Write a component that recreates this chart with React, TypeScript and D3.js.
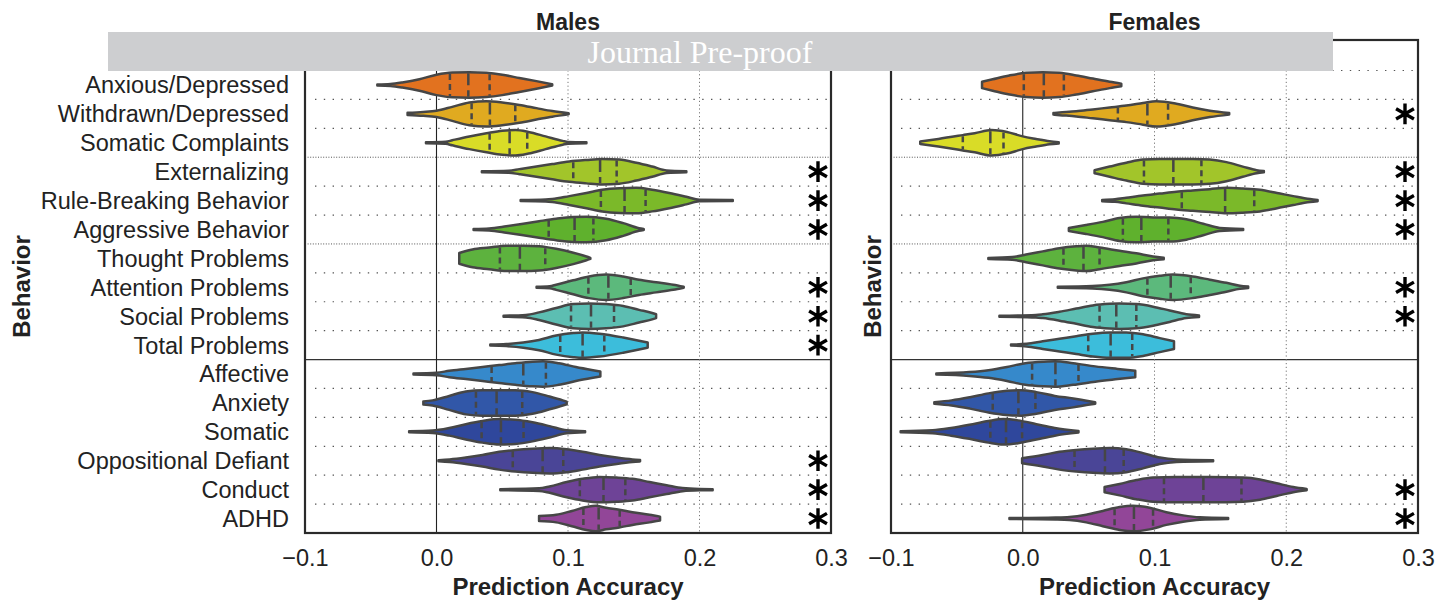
import React, { useEffect, useRef } from "react";
import * as d3 from "d3";

// rows of the chart, top to bottom
const behaviors = [
  "Anxious/Depressed",
  "Withdrawn/Depressed",
  "Somatic Complaints",
  "Externalizing",
  "Rule-Breaking Behavior",
  "Aggressive Behavior",
  "Thought Problems",
  "Attention Problems",
  "Social Problems",
  "Total Problems",
  "Affective",
  "Anxiety",
  "Somatic",
  "Oppositional Defiant",
  "Conduct",
  "ADHD",
];

const violinColors = [
  "#e2721f", "#e0aa20", "#d9dc27", "#a2c52a", "#7bb929", "#5fb12d",
  "#5db23e", "#5cb97c", "#5cbeb2", "#3cbddb", "#3689cb", "#3157a8",
  "#2f479c", "#4a4597", "#6e4397", "#924698",
];

const xTicks = [-0.1, 0, 0.1, 0.2, 0.3];

// [q1, median, q3] per behavior
const malesQuartiles = [
  [0.0102, 0.0242, 0.0404], [0.0267, 0.0406, 0.0599], [0.0404, 0.0556, 0.069],
  [0.104, 0.1244, 0.137], [0.125, 0.143, 0.159], [0.0853, 0.105, 0.1193],
  [0.0482, 0.0634, 0.0827], [0.1155, 0.1307, 0.1477], [0.1023, 0.1175, 0.135],
  [0.0941, 0.1111, 0.1276], [0.0419, 0.066, 0.0832], [0.03, 0.0457, 0.0652],
  [0.0343, 0.049, 0.0662], [0.058, 0.0807, 0.0964], [0.109, 0.127, 0.1436],
  [0.1117, 0.1233, 0.1393],
];

const femalesQuartiles = [
  [0.0008, 0.016, 0.0312], [0.0722, 0.0946, 0.1103], [-0.0455, -0.0246, -0.0146],
  [0.092, 0.1143, 0.1356], [0.1207, 0.1536, 0.1757], [0.076, 0.09, 0.1105],
  [0.0309, 0.0461, 0.0583], [0.0946, 0.1123, 0.1275], [0.0583, 0.071, 0.0862],
  [0.0497, 0.0667, 0.0831], [0.0071, 0.0248, 0.0423], [-0.0228, -0.0033, 0.0096],
  [-0.0246, -0.0127, -0.0005], [0.0393, 0.0624, 0.0766], [0.1072, 0.1371, 0.166],
  [0.0697, 0.0844, 0.0989],
];

// violin outlines: [accuracy, relative density]
const malesProfiles = [
  [[-0.045, 0.04], [-0.035, 0.08], [-0.026, 0.2], [-0.013, 0.45], [0.0, 0.8], [0.012, 0.97], [0.025, 1], [0.038, 0.95], [0.05, 0.8], [0.063, 0.55], [0.076, 0.3], [0.088, 0.05]],
  [[-0.022, 0.08], [-0.01, 0.15], [0.0, 0.25], [0.012, 0.55], [0.025, 0.9], [0.038, 1], [0.05, 0.9], [0.063, 0.7], [0.076, 0.45], [0.088, 0.22], [0.1005, 0.04]],
  [[-0.008, 0.04], [0.007, 0.08], [0.012, 0.2], [0.025, 0.5], [0.038, 0.75], [0.05, 0.95], [0.06, 1], [0.07, 0.85], [0.083, 0.5], [0.096, 0.15], [0.1, 0.07], [0.114, 0.04]],
  [[0.0345, 0.04], [0.055, 0.08], [0.063, 0.2], [0.076, 0.4], [0.088, 0.6], [0.101, 0.8], [0.114, 0.92], [0.126, 1], [0.139, 0.95], [0.152, 0.7], [0.164, 0.4], [0.175, 0.1], [0.19, 0.04]],
  [[0.064, 0.04], [0.083, 0.08], [0.088, 0.12], [0.101, 0.35], [0.114, 0.6], [0.126, 0.85], [0.139, 0.97], [0.152, 1], [0.164, 0.85], [0.177, 0.6], [0.19, 0.3], [0.2, 0.06], [0.2253, 0.04]],
  [[0.0282, 0.04], [0.04, 0.08], [0.053, 0.25], [0.066, 0.45], [0.078, 0.65], [0.091, 0.85], [0.104, 0.98], [0.114, 1], [0.129, 0.85], [0.142, 0.5], [0.154, 0.1], [0.1576, 0.04]],
  [[0.0173, 0.42], [0.0274, 0.7], [0.04, 0.85], [0.053, 1], [0.066, 1], [0.078, 0.95], [0.091, 0.75], [0.104, 0.45], [0.114, 0.15], [0.117, 0.04]],
  [[0.0761, 0.04], [0.086, 0.08], [0.091, 0.2], [0.104, 0.55], [0.116, 0.85], [0.129, 1], [0.142, 0.85], [0.154, 0.6], [0.167, 0.4], [0.18, 0.2], [0.188, 0.04]],
  [[0.051, 0.04], [0.068, 0.1], [0.078, 0.3], [0.091, 0.65], [0.104, 0.95], [0.116, 1], [0.129, 0.95], [0.142, 0.8], [0.154, 0.5], [0.164, 0.25], [0.167, 0.15]],
  [[0.0409, 0.04], [0.053, 0.08], [0.066, 0.2], [0.078, 0.4], [0.091, 0.75], [0.104, 0.95], [0.111, 1], [0.124, 0.9], [0.142, 0.6], [0.154, 0.35], [0.1606, 0.2]],
  [[-0.0175, 0.04], [0.0, 0.1], [0.0097, 0.25], [0.0223, 0.4], [0.035, 0.55], [0.0477, 0.7], [0.06, 0.85], [0.073, 0.97], [0.081, 1], [0.093, 0.85], [0.106, 0.55], [0.119, 0.3], [0.1246, 0.2]],
  [[-0.01, 0.12], [-0.003, 0.2], [0.0097, 0.55], [0.0223, 0.9], [0.035, 1], [0.0477, 1], [0.06, 1], [0.073, 0.85], [0.086, 0.5], [0.096, 0.2], [0.099, 0.1]],
  [[-0.0208, 0.04], [-0.003, 0.1], [0.0097, 0.3], [0.0223, 0.6], [0.035, 0.85], [0.0477, 1], [0.06, 0.95], [0.073, 0.75], [0.086, 0.45], [0.099, 0.12], [0.113, 0.04]],
  [[0.0015, 0.04], [0.01, 0.1], [0.0223, 0.25], [0.035, 0.45], [0.0477, 0.7], [0.06, 0.85], [0.073, 0.95], [0.086, 1], [0.099, 0.9], [0.111, 0.7], [0.124, 0.45], [0.137, 0.25], [0.149, 0.1], [0.1548, 0.05]],
  [[0.0485, 0.04], [0.078, 0.1], [0.086, 0.25], [0.099, 0.6], [0.111, 0.85], [0.124, 1], [0.137, 0.95], [0.149, 0.85], [0.162, 0.6], [0.175, 0.35], [0.187, 0.12], [0.2, 0.05], [0.21, 0.04]],
  [[0.078, 0.2], [0.091, 0.3], [0.103, 0.6], [0.114, 0.9], [0.121, 1], [0.129, 0.85], [0.139, 0.7], [0.149, 0.5], [0.162, 0.3], [0.17, 0.15]],
];

const femalesProfiles = [
  [[-0.0309, 0.25], [-0.0228, 0.45], [-0.0101, 0.75], [0.0025, 0.95], [0.0152, 1], [0.0279, 0.95], [0.0406, 0.75], [0.0532, 0.5], [0.066, 0.25], [0.0748, 0.1]],
  [[0.0233, 0.06], [0.028, 0.1], [0.0406, 0.2], [0.0532, 0.35], [0.066, 0.5], [0.0786, 0.65], [0.0913, 0.85], [0.1014, 1], [0.1166, 0.8], [0.129, 0.5], [0.142, 0.25], [0.1567, 0.06]],
  [[-0.0778, 0.1], [-0.064, 0.3], [-0.0455, 0.6], [-0.0365, 0.75], [-0.0236, 1], [-0.012, 0.85], [0.0, 0.5], [0.0101, 0.3], [0.0203, 0.12], [0.0273, 0.05]],
  [[0.0545, 0.12], [0.066, 0.4], [0.0786, 0.7], [0.0913, 0.95], [0.104, 1], [0.1166, 1], [0.129, 1], [0.142, 0.95], [0.1546, 0.75], [0.167, 0.4], [0.1775, 0.12], [0.183, 0.05]],
  [[0.0603, 0.05], [0.07, 0.1], [0.0786, 0.22], [0.0913, 0.4], [0.104, 0.55], [0.1166, 0.7], [0.129, 0.8], [0.142, 0.9], [0.1546, 1], [0.167, 0.95], [0.18, 0.85], [0.193, 0.6], [0.2053, 0.35], [0.218, 0.12], [0.2238, 0.05]],
  [[0.035, 0.12], [0.048, 0.35], [0.0608, 0.6], [0.0735, 0.9], [0.0862, 1], [0.0989, 0.95], [0.1115, 0.95], [0.1242, 0.8], [0.137, 0.45], [0.1496, 0.12], [0.1673, 0.04]],
  [[-0.0261, 0.04], [-0.008, 0.1], [0.0025, 0.3], [0.0152, 0.55], [0.0279, 0.8], [0.0406, 0.95], [0.048, 1], [0.0583, 0.85], [0.0735, 0.6], [0.0862, 0.4], [0.0989, 0.15], [0.107, 0.06]],
  [[0.0266, 0.04], [0.053, 0.1], [0.0659, 0.2], [0.0786, 0.4], [0.0913, 0.7], [0.104, 0.9], [0.114, 1], [0.129, 0.85], [0.142, 0.6], [0.1546, 0.35], [0.1648, 0.12], [0.1711, 0.06]],
  [[-0.0177, 0.04], [0.01, 0.1], [0.0152, 0.15], [0.0279, 0.35], [0.0406, 0.6], [0.0532, 0.85], [0.066, 0.97], [0.0735, 1], [0.0862, 0.95], [0.0989, 0.75], [0.1115, 0.45], [0.1242, 0.15], [0.1338, 0.06]],
  [[-0.0089, 0.04], [0.003, 0.1], [0.0152, 0.3], [0.0279, 0.5], [0.0406, 0.7], [0.0532, 0.9], [0.066, 1], [0.0786, 1], [0.0913, 0.85], [0.104, 0.55], [0.1148, 0.3]],
  [[-0.0656, 0.04], [-0.0405, 0.15], [-0.026, 0.3], [-0.012, 0.55], [0.0019, 0.85], [0.016, 0.97], [0.0244, 1], [0.0383, 0.85], [0.055, 0.6], [0.072, 0.4], [0.0854, 0.25]],
  [[-0.0671, 0.06], [-0.054, 0.2], [-0.04, 0.45], [-0.026, 0.75], [-0.0122, 0.95], [-0.001, 1], [0.0103, 0.85], [0.0243, 0.55], [0.0383, 0.35], [0.0495, 0.15], [0.055, 0.06]],
  [[-0.0927, 0.04], [-0.0684, 0.12], [-0.0544, 0.3], [-0.0405, 0.55], [-0.026, 0.85], [-0.0148, 1], [-0.0036, 0.9], [0.0103, 0.6], [0.0243, 0.3], [0.0423, 0.06]],
  [[-0.0005, 0.2], [0.0152, 0.45], [0.0279, 0.7], [0.0406, 0.85], [0.0532, 0.95], [0.066, 1], [0.0786, 0.9], [0.0913, 0.6], [0.104, 0.25], [0.1166, 0.1], [0.1445, 0.04]],
  [[0.0621, 0.2], [0.0735, 0.45], [0.0862, 0.75], [0.0989, 0.95], [0.1166, 1], [0.142, 1], [0.1673, 0.95], [0.18, 0.8], [0.1927, 0.5], [0.2053, 0.2], [0.2155, 0.05]],
  [[-0.0101, 0.04], [0.025, 0.08], [0.0355, 0.12], [0.0482, 0.3], [0.0608, 0.6], [0.0735, 0.9], [0.0837, 1], [0.0963, 0.85], [0.109, 0.5], [0.1217, 0.25], [0.1344, 0.1], [0.1559, 0.04]],
];

// behaviors marked with an asterisk
const malesSignificant = [
  "Externalizing", "Rule-Breaking Behavior", "Aggressive Behavior",
  "Attention Problems", "Social Problems", "Total Problems",
  "Oppositional Defiant", "Conduct", "ADHD",
];
const femalesSignificant = [
  "Withdrawn/Depressed", "Externalizing", "Rule-Breaking Behavior",
  "Aggressive Behavior", "Attention Problems", "Social Problems",
  "Conduct", "ADHD",
];

// rows after which a separator is drawn
const dottedBreaks = ["Somatic Complaints", "Aggressive Behavior"];
const solidBreak = "Total Problems";

const FONT = "'Liberation Sans', Arial, Helvetica, sans-serif";

export default function App() {
  const svgRef = useRef<SVGSVGElement>(null);

  useEffect(() => {
    if (!svgRef.current) return;
    const svg = d3.select(svgRef.current);
    svg.selectAll("*").remove();

    const boxTop = 40;
    const boxBottom = 533;
    const y = d3.scaleBand().domain(behaviors).range([70.5, boxBottom]);
    const halfW = y.bandwidth() * 0.44;

    const panels = [
      { title: "Males", range: [305, 831], profiles: malesProfiles, quart: malesQuartiles, sig: malesSignificant, yLabels: true, behaviorX: 22 },
      { title: "Females", range: [891, 1418], profiles: femalesProfiles, quart: femalesQuartiles, sig: femalesSignificant, yLabels: false, behaviorX: 873 },
    ];

    panels.forEach((p) => {
      const x = d3.scaleLinear().domain([-0.1, 0.3]).range(p.range);
      const [x0, x1] = p.range;
      const g = svg.append("g");

      // horizontal row lines
      behaviors.forEach((b) => {
        const yy = (y(b) as number) + y.bandwidth();
        if (b === behaviors[behaviors.length - 1]) return;
        if (b === solidBreak) {
          g.append("line").attr("x1", x0).attr("x2", x1).attr("y1", yy).attr("y2", yy)
            .attr("stroke", "#333").attr("stroke-width", 1.3);
        } else if (dottedBreaks.includes(b)) {
          g.append("line").attr("x1", x0).attr("x2", x1).attr("y1", yy).attr("y2", yy)
            .attr("stroke", "#555").attr("stroke-width", 1).attr("stroke-dasharray", "1,1.6");
        } else {
          g.append("line").attr("x1", x0 + 10).attr("x2", x1 - 3).attr("y1", yy).attr("y2", yy)
            .attr("stroke", "#555").attr("stroke-width", 1.2).attr("stroke-dasharray", "1.4,7.4");
        }
      });
      // top row boundary
      g.append("line").attr("x1", x0 + 10).attr("x2", x1 - 3).attr("y1", 70.5).attr("y2", 70.5)
        .attr("stroke", "#555").attr("stroke-width", 1.2).attr("stroke-dasharray", "1.4,7.4");

      // vertical grid
      [0.1, 0.2].forEach((t) => {
        g.append("line").attr("x1", x(t)).attr("x2", x(t)).attr("y1", boxTop).attr("y2", boxBottom)
          .attr("stroke", "#777").attr("stroke-width", 1).attr("stroke-dasharray", "1.2,2.6");
      });
      g.append("line").attr("x1", x(0)).attr("x2", x(0)).attr("y1", boxTop).attr("y2", boxBottom)
        .attr("stroke", "#222").attr("stroke-width", 1.1);

      // violins
      behaviors.forEach((b, i) => {
        const cy = (y(b) as number) + y.bandwidth() / 2;
        const prof = p.profiles[i];
        const area = d3.area<number[]>()
          .x((d) => x(d[0]))
          .y0((d) => cy - d[1] * halfW)
          .y1((d) => cy + d[1] * halfW)
          .curve(d3.curveMonotoneX);
        g.append("path").attr("d", area(prof))
          .attr("fill", violinColors[i]).attr("stroke", "#464646")
          .attr("stroke-width", 2.5).attr("stroke-linejoin", "round");

        const dens = d3.scaleLinear().domain(prof.map((d) => d[0])).range(prof.map((d) => d[1]));
        p.quart[i].forEach((q, k) => {
          const w = dens(q) * halfW - 1;
          g.append("line").attr("x1", x(q)).attr("x2", x(q))
            .attr("y1", cy - w).attr("y2", cy + w)
            .attr("stroke", "#464646").attr("stroke-width", 2.5)
            .attr("stroke-dasharray", k === 1 ? "12,5" : "6,4");
        });

        if (p.sig.includes(b)) {
          g.append("path")
            .attr("d", d3.symbol(d3.symbolAsterisk, 300)())
            .attr("transform", `translate(${x1 - 13},${cy})`)
            .attr("fill", "none").attr("stroke", "#000").attr("stroke-width", 3.4);
        }
      });

      // box
      g.append("rect").attr("x", x0).attr("y", boxTop).attr("width", x1 - x0).attr("height", boxBottom - boxTop)
        .attr("fill", "none").attr("stroke", "#2a2a2a").attr("stroke-width", 2.2);

      // x axis
      const axis = d3.axisBottom(x).tickValues(xTicks).tickSize(0).tickPadding(16)
        .tickFormat(d3.format(".1f") as any);
      const ag = g.append("g").attr("transform", `translate(0,${boxBottom})`).call(axis);
      ag.select(".domain").remove();
      ag.selectAll("text").attr("font-size", 23.5).attr("font-family", FONT).attr("fill", "#222");

      g.append("text").attr("x", (x0 + x1) / 2).attr("y", 595)
        .attr("text-anchor", "middle").attr("font-family", FONT).attr("font-weight", "bold")
        .attr("font-size", 24).attr("fill", "#222").text("Prediction Accuracy");

      g.append("text").attr("transform", `translate(${p.behaviorX + 8},${(boxTop + boxBottom) / 2}) rotate(-90)`)
        .attr("text-anchor", "middle").attr("font-family", FONT).attr("font-weight", "bold")
        .attr("font-size", 24).attr("fill", "#222").text("Behavior");

      g.append("text").attr("x", (x0 + x1) / 2).attr("y", 30)
        .attr("text-anchor", "middle").attr("font-family", FONT).attr("font-weight", "bold")
        .attr("font-size", 23).attr("fill", "#222").text(p.title);

      if (p.yLabels) {
        behaviors.forEach((b) => {
          g.append("text").attr("x", 289).attr("y", (y(b) as number) + y.bandwidth() / 2)
            .attr("dy", "0.36em").attr("text-anchor", "end")
            .attr("font-family", FONT).attr("font-size", 23.5).attr("fill", "#222").text(b);
        });
      }
    });

    // pre-proof banner
    svg.append("rect").attr("x", 108).attr("y", 32).attr("width", 1225).attr("height", 39)
      .attr("fill", "#cdced0");
    svg.append("text").attr("x", 700).attr("y", 63).attr("text-anchor", "middle")
      .attr("font-family", "'Liberation Serif', 'Times New Roman', serif").attr("font-size", 32)
      .attr("fill", "#ffffff").text("Journal Pre-proof");
  }, []);

  return (
    <svg
      ref={svgRef}
      width={1437}
      height={601}
      style={{ position: "absolute", left: 0, top: 0, background: "#fff" }}
    />
  );
}
